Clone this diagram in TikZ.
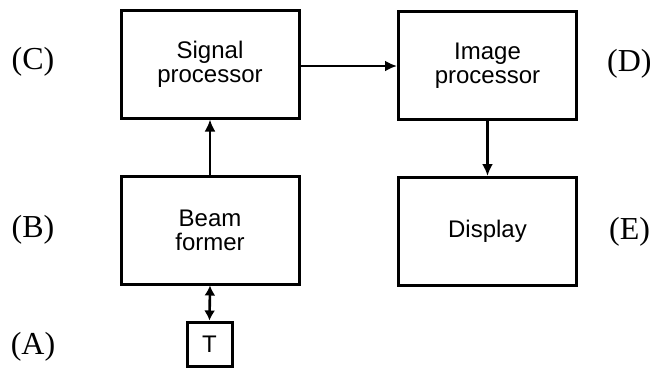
\documentclass[tikz,border=0pt]{standalone}
\usepackage{fontspec}
\setmainfont{Liberation Serif}
\newfontfamily\blocksans{Liberation Sans}
\usetikzlibrary{arrows.meta}
\begin{document}
\begin{tikzpicture}[x=1pt,y=-1pt,
  block/.style={draw, line width=3pt, minimum width=178pt, minimum height=108pt,
    inner sep=0pt, align=center, font=\blocksans\fontsize{24}{24}\selectfont},
  tbox/.style={draw, line width=3pt, minimum width=45pt, minimum height=44pt,
    inner sep=0pt, font=\blocksans\fontsize{24}{24}\selectfont},
  tag/.style={font=\fontsize{32}{34}\selectfont, inner sep=0pt},
  flow/.style={line width=2.6pt, -{Latex[length=12pt,width=11pt]}},
  bidir/.style={line width=2.6pt, {Latex[length=10pt,width=11pt]}-{Latex[length=10pt,width=11pt]}}]
\useasboundingbox (0,0) rectangle (653,368);
% processing chain
\node[block] (sig) at (210,64) {Signal\\processor};
\node[block] (img) at (487.5,65.5) {Image\\processor};
\node[block] (beam) at (210,230) {Beam\\former};
\node[block] (disp) at (487.5,231.5) {Display};
\node[tbox] (t) at (209.5,344) {T};
% stage letters
\node[tag] (lc) at (33,62) {(C)};
\node[tag, anchor=west] (ld) at (607,64) {(D)};
\node[tag] (lb) at (33,230) {(B)};
\node[tag, anchor=west] (le) at (609,232) {(E)};
\node[tag] (la) at (33,347) {(A)};
% signal path
\draw[flow] (beam.north) -- (sig.south);
\draw[flow] (sig.east |- 0,66) -- (img.west |- 0,66);
\draw[flow] (img.south) -- (disp.north);
\draw[bidir] (beam.south) -- (t.north);
\end{tikzpicture}
\end{document}
